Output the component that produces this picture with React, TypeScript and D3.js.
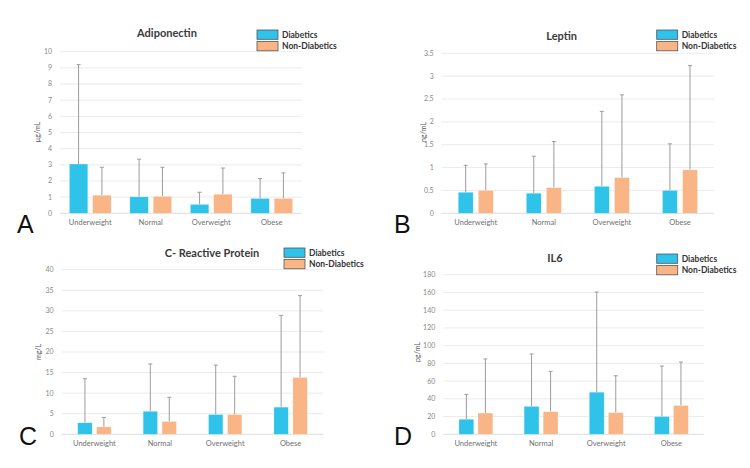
import React from "react";
import * as d3 from "d3";

const categories = ["Underweight", "Normal", "Overweight", "Obese"];
const seriesNames = ["Diabetics", "Non-Diabetics"];

const adipoDiab = [3.05, 1.02, 0.55, 0.92];
const adipoDiabSD = [6.15, 2.33, 0.75, 1.23];
const adipoNon = [1.12, 1.05, 1.18, 0.92];
const adipoNonSD = [1.73, 1.8, 1.62, 1.58];
const adipoTicks = [0, 1, 2, 3, 4, 5, 6, 7, 8, 9, 10];

const leptinDiab = [0.46, 0.44, 0.59, 0.5];
const leptinDiabSD = [0.59, 0.81, 1.64, 1.02];
const leptinNon = [0.5, 0.56, 0.78, 0.95];
const leptinNonSD = [0.58, 1.01, 1.81, 2.28];
const leptinTicks = [0, 0.5, 1, 1.5, 2, 2.5, 3, 3.5];

const crpDiab = [2.8, 5.6, 4.8, 6.6];
const crpDiabSD = [10.7, 11.5, 12.0, 22.3];
const crpNon = [1.8, 3.1, 4.8, 13.8];
const crpNonSD = [2.3, 5.9, 9.3, 19.9];
const crpTicks = [0, 5, 10, 15, 20, 25, 30, 35, 40];

const il6Diab = [17, 31.5, 47.5, 20];
const il6DiabSD = [28, 59, 113, 57];
const il6Non = [24, 25.5, 24.5, 32.5];
const il6NonSD = [61, 45.5, 41.5, 49];
const il6Ticks = [0, 20, 40, 60, 80, 100, 120, 140, 160, 180];

const COLORS = ["#2fc3ea", "#f9b586"];
const FONT = "Lato, 'Open Sans', sans-serif";

type PanelProps = {
  title: string;
  unit: string;
  letter: string;
  diab: number[];
  diabSD: number[];
  non: number[];
  nonSD: number[];
  ticks: number[];
  x0: number;
  x1: number;
  yTop: number;
  yBottom: number;
  outerPad: number;
  innerPad: number;
  titleX: number;
  titleY: number;
  legendX: number;
  legendY: number;
  unitX: number;
  unitY: number;
  letterX: number;
  letterY: number;
};

function Panel(p: PanelProps) {
  const maxV = p.ticks[p.ticks.length - 1];
  const y = d3.scaleLinear().domain([0, maxV]).range([p.yBottom, p.yTop]);
  const x = d3.scaleBand<string>().domain(categories).range([p.x0, p.x1]).paddingInner(0).paddingOuter(0);
  const bw = x.bandwidth();
  const xs = d3
    .scaleBand<string>()
    .domain(seriesNames)
    .range([bw * p.outerPad, bw * (1 - p.outerPad)])
    .paddingInner(p.innerPad)
    .paddingOuter(0);
  const data = [
    { name: seriesNames[0], vals: p.diab, sd: p.diabSD },
    { name: seriesNames[1], vals: p.non, sd: p.nonSD },
  ];
  const fmt = (v: number) => String(v);
  return (
    <g>
      {p.ticks.map((t) => (
        <g key={"t" + t}>
          <line x1={p.x0} x2={p.x1} y1={y(t)} y2={y(t)} stroke={t === 0 ? "#d4d4d4" : "#e6e6e6"} strokeWidth={0.8} />
          <text x={p.x0 - 8} y={y(t)} dy="0.35em" textAnchor="end" fontSize={7} fill="#8a8a8a" fontFamily={FONT}>
            {fmt(t)}
          </text>
        </g>
      ))}
      {data.map((s, si) =>
        categories.map((c, ci) => {
          const bx = (x(c) as number) + (xs(s.name) as number);
          const w = xs.bandwidth();
          const cx = bx + w / 2;
          const top = s.vals[ci] + s.sd[ci];
          return (
            <g key={s.name + c}>
              <line x1={cx} x2={cx} y1={y(top)} y2={y(s.vals[ci])} stroke="#9c9c9c" strokeWidth={1} />
              <line x1={cx - 2} x2={cx + 2} y1={y(top)} y2={y(top)} stroke="#9c9c9c" strokeWidth={1} />
              <rect x={bx} y={y(s.vals[ci])} width={w} height={y(0) - y(s.vals[ci])} fill={COLORS[si]} stroke="#ffffff" strokeOpacity={0.5} strokeWidth={0.5} />
            </g>
          );
        })
      )}
      {categories.map((c) => (
        <text key={"c" + c} x={(x(c) as number) + bw / 2} y={p.yBottom + 12} textAnchor="middle" fontSize={7.5} fill="#6f6f6f" fontFamily={FONT}>
          {c}
        </text>
      ))}
      <text x={p.titleX} y={p.titleY} dy="0.35em" textAnchor="middle" fontSize={11} fontWeight="bold" fill="#3a3a3a" fontFamily={FONT}>
        {p.title}
      </text>
      <text
        transform={`translate(${p.unitX},${p.unitY}) rotate(-90)`}
        textAnchor="middle"
        fontSize={7}
        fill="#555"
        fontFamily={FONT}
      >
        {p.unit}
      </text>
      {seriesNames.map((n, i) => (
        <g key={"l" + n}>
          <rect x={p.legendX} y={p.legendY + i * 11.5} width={21} height={9.3} fill={COLORS[i]} stroke="#555" strokeWidth={0.8} />
          <text x={p.legendX + 25} y={p.legendY + i * 11.5 + 4.8} dy="0.35em" fontSize={8.5} fontWeight="bold" fill="#333" fontFamily={FONT}>
            {n}
          </text>
        </g>
      ))}
      <text x={p.letterX} y={p.letterY} fontSize={25} fill="#111" fontFamily="'Liberation Sans', Arial, sans-serif">
        {p.letter}
      </text>
    </g>
  );
}

export default function App() {
  return (
    <svg width={750} height={468} style={{ position: "absolute", left: 0, top: 0, background: "#fff" }}>
      <rect width={750} height={468} fill="#fff" />
      <Panel
        title="Adiponectin" unit="µg/mL" letter="A"
        diab={adipoDiab} diabSD={adipoDiabSD} non={adipoNon} nonSD={adipoNonSD} ticks={adipoTicks}
        x0={60} x1={302} yTop={51.7} yBottom={213.3} outerPad={0.155} innerPad={0.21}
        titleX={167} titleY={33} legendX={257} legendY={30} unitX={40} unitY={132} letterX={17} letterY={233}
      />
      <Panel
        title="Leptin" unit="ng/mL" letter="B"
        diab={leptinDiab} diabSD={leptinDiabSD} non={leptinNon} nonSD={leptinNonSD} ticks={leptinTicks}
        x0={441.7} x1={714} yTop={53.3} yBottom={213.3} outerPad={0.243} innerPad={0.26}
        titleX={561.7} titleY={36} legendX={656.7} legendY={30} unitX={426} unitY={132} letterX={394} letterY={233}
      />
      <Panel
        title="C- Reactive Protein" unit="mg/L" letter="C"
        diab={crpDiab} diabSD={crpDiabSD} non={crpNon} nonSD={crpNonSD} ticks={crpTicks}
        x0={61.7} x1={323.3} yTop={269.7} yBottom={434.3} outerPad={0.245} innerPad={0.24}
        titleX={212} titleY={253} legendX={284} legendY={248} unitX={41} unitY={352} letterX={19} letterY={445}
      />
      <Panel
        title="IL6" unit="pg/mL" letter="D"
        diab={il6Diab} diabSD={il6DiabSD} non={il6Non} nonSD={il6NonSD} ticks={il6Ticks}
        x0={443.3} x1={704} yTop={274.7} yBottom={434.3} outerPad={0.24} innerPad={0.22}
        titleX={555} titleY={258} legendX={656.7} legendY={254} unitX={420} unitY={352} letterX={394} letterY={445}
      />
    </svg>
  );
}
